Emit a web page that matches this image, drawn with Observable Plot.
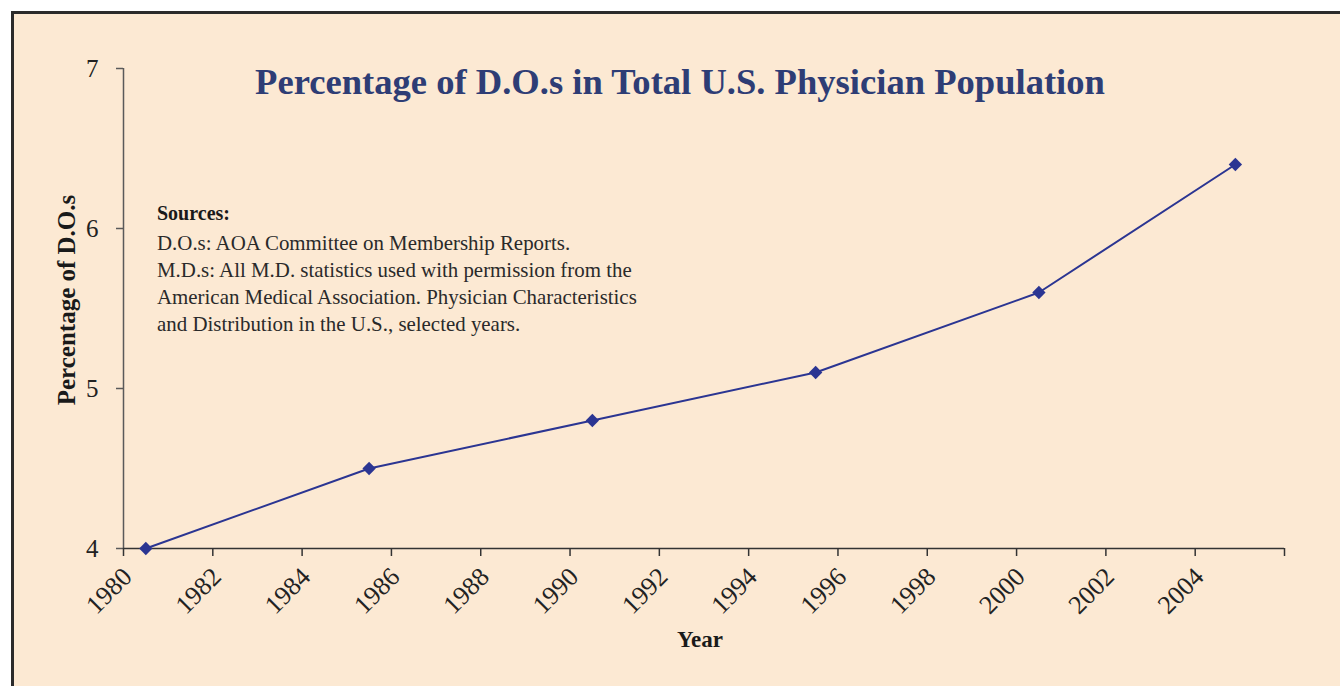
<!DOCTYPE html>
<html>
<head>
<meta charset="utf-8">
<script src="https://cdn.jsdelivr.net/npm/d3@7"></script>
<script src="https://cdn.jsdelivr.net/npm/@observablehq/plot@0.6"></script>
<style>
  html, body { margin: 0; padding: 0; background: #ffffff; overflow: hidden; width: 1340px; height: 686px; }
  #frame { position: absolute; left: 11px; top: 11px; width: 1340px; height: 686px;
           background: #fce9d3; border-top: 3px solid #2b2b2b; border-left: 3px solid #2b2b2b; }
  #chart { position: absolute; left: 0; top: 0; }
  .t { position: absolute; font-family: "Liberation Serif", "Times New Roman", serif; white-space: nowrap; }
  #title { left: 0; width: 1360px; text-align: center; top: 60px; font-size: 36.6px; font-weight: bold; color: #2e3d75; }
  #sources { left: 157px; top: 200px; font-size: 20.9px; color: #2a2a2a; line-height: 27px; }
  #sources b { display: block; font-size: 20px; margin-bottom: 3px; color: #1a1a1a; }
  #ylab { left: 67px; top: 300px; transform: translate(-50%, -50%) rotate(-90deg); font-size: 25px; font-weight: bold; color: #1a1a1a; }
  #xlab { left: 700px; top: 627px; transform: translateX(-50%); font-size: 23px; font-weight: bold; color: #1a1a1a; }
</style>
</head>
<body>
<div id="frame"></div>
<div id="chart"></div>
<div class="t" id="title">Percentage of D.O.s in Total U.S. Physician Population</div>
<div class="t" id="sources"><b>Sources:</b>D.O.s: AOA Committee on Membership Reports.<br>M.D.s: All M.D. statistics used with permission from the<br>American Medical Association. Physician Characteristics<br>and Distribution in the U.S., selected years.</div>
<div class="t" id="ylab">Percentage of D.O.s</div>
<div class="t" id="xlab">Year</div>
<script>
// Data
const years = [1980.5, 1985.5, 1990.5, 1995.5, 2000.5, 2004.9];
const percentages = [4.0, 4.5, 4.8, 5.1, 5.6, 6.4];
const xTicks = [1980, 1982, 1984, 1986, 1988, 1990, 1992, 1994, 1996, 1998, 2000, 2002, 2004, 2006];
const xTickLabels = ["1980", "1982", "1984", "1986", "1988", "1990", "1992", "1994", "1996", "1998", "2000", "2002", "2004", ""];
const yTicks = [4, 5, 6, 7];
const yTickLabels = ["4", "5", "6", "7"];

const data = years.map((yr, i) => ({year: yr, pct: percentages[i]}));
const lineColor = "#2b3592";
const font = "Liberation Serif, Times New Roman, serif";

const chart = Plot.plot({
  width: 1340,
  height: 686,
  marginLeft: 123,
  marginRight: 56,
  marginTop: 68,
  marginBottom: 138,
  style: {background: "transparent", fontFamily: font, color: "#222"},
  x: {domain: [1980, 2006]},
  y: {domain: [4, 7]},
  marks: [
    Plot.ruleX([1980], {y1: 4, y2: 7, stroke: "#5a5a5a", strokeWidth: 1.5}),
    Plot.ruleY([4], {x1: 1980, x2: 2006, stroke: "#333", strokeWidth: 1.5}),
    Plot.axisY({ticks: yTicks, tickFormat: d => yTickLabels[yTicks.indexOf(d)], tickSize: 7, tickPadding: 18, fontSize: 25, fontFamily: font, stroke: "#5a5a5a", strokeWidth: 1.5, label: null}),
    Plot.axisX({ticks: xTicks, tickFormat: () => "", tickSize: 8, stroke: "#333", strokeWidth: 1.5, label: null}),
    Plot.axisX({ticks: xTicks, tickFormat: d => xTickLabels[xTicks.indexOf(d)], tickSize: 0, tickPadding: 24, dx: 4, tickRotate: -45, fontSize: 26, fontFamily: font, label: null}),
    Plot.line(data, {x: "year", y: "pct", stroke: lineColor, strokeWidth: 2}),
    Plot.dot(data, {x: "year", y: "pct", symbol: "diamond2", r: 6, fill: lineColor, stroke: "none"})
  ]
});
document.getElementById("chart").appendChild(chart);
</script>
</body>
</html>
